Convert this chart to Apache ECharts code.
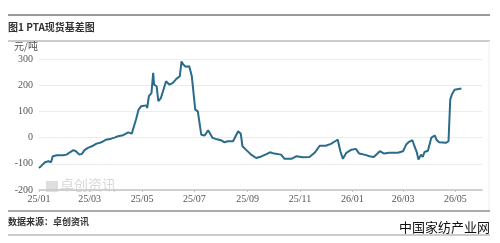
<!DOCTYPE html>
<html>
<head>
<meta charset="utf-8">
<script src="https://cdn.jsdelivr.net/npm/echarts@6/dist/echarts.min.js"></script>
<style>
  html, body { margin: 0; padding: 0; background: #fff; }
  #main { width: 500px; height: 243px; }
</style>
</head>
<body>
<div id="main"></div>
<script>
// 基差数据（元/吨），按日期读取
var basisDates = [
  "2025-01-01", "2025-01-04", "2025-01-08", "2025-01-12", "2025-01-15", "2025-01-17", "2025-01-22", "2025-01-29",
  "2025-02-02", "2025-02-06", "2025-02-10", "2025-02-13", "2025-02-17", "2025-02-20", "2025-02-23", "2025-02-27",
  "2025-03-05", "2025-03-09", "2025-03-13", "2025-03-17", "2025-03-20", "2025-03-22", "2025-03-26", "2025-03-30",
  "2025-04-03", "2025-04-09", "2025-04-15", "2025-04-19", "2025-04-21", "2025-04-24", "2025-04-27", "2025-04-30",
  "2025-05-06", "2025-05-07", "2025-05-09", "2025-05-12", "2025-05-14", "2025-05-15", "2025-05-18", "2025-05-20",
  "2025-05-23", "2025-05-29", "2025-06-02", "2025-06-06", "2025-06-10", "2025-06-14", "2025-06-16", "2025-06-18",
  "2025-06-21", "2025-06-25", "2025-06-28", "2025-07-02", "2025-07-05", "2025-07-09", "2025-07-13", "2025-07-17",
  "2025-07-19", "2025-07-22", "2025-07-26", "2025-08-01", "2025-08-05", "2025-08-09", "2025-08-15", "2025-08-21",
  "2025-08-23", "2025-08-24", "2025-08-26", "2025-08-30", "2025-09-05", "2025-09-11", "2025-09-17", "2025-09-23",
  "2025-09-27", "2025-10-02", "2025-10-10", "2025-10-14", "2025-10-22", "2025-10-28", "2025-11-04", "2025-11-12",
  "2025-11-18", "2025-11-24", "2025-12-01", "2025-12-07", "2025-12-12", "2025-12-15", "2025-12-18", "2025-12-21",
  "2025-12-25", "2025-12-31", "2026-01-05", "2026-01-09", "2026-01-15", "2026-01-21", "2026-01-26", "2026-02-02",
  "2026-02-07", "2026-02-13", "2026-02-23", "2026-03-01", "2026-03-05", "2026-03-08", "2026-03-12", "2026-03-14",
  "2026-03-17", "2026-03-19", "2026-03-22", "2026-03-24", "2026-03-26", "2026-03-30", "2026-04-01", "2026-04-03",
  "2026-04-07", "2026-04-09", "2026-04-12", "2026-04-20", "2026-04-23", "2026-04-25", "2026-04-27", "2026-04-30",
  "2026-05-08"
];
var basisValues = [
  -116, -107, -94, -90, -94, -71, -67, -67,
  -65, -56, -48, -52, -65, -62, -48, -39,
  -31, -23, -20, -14, -8, -10, -4, 0,
  5, 9, 20, 15, 22, 69, 107, 120,
  123, 113, 158, 170, 247, 202, 196, 139,
  151, 215, 202, 209, 224, 234, 291, 279,
  270, 272, 234, 107, 100, 11, 8, 28,
  24, -1, -5, -10, -18, -14, -14, 24,
  31, 15, -33, -46, -65, -78, -72, -63,
  -56, -61, -65, -81, -81, -71, -75, -74,
  -58, -31, -31, -24, -14, -8, -52, -81,
  -58, -46, -43, -61, -65, -71, -74, -52,
  -61, -58, -58, -52, -25, -16, -10, -30,
  -55, -84, -65, -74, -55, -50, -46, 0,
  8, -8, -18, -20, -14, 145, 165, 183,
  187
];
var yTicks = [-200, -100, 0, 100, 200, 300];

// 横轴按自然日排列
var dayList = [];
var d = new Date(Date.UTC(2025, 0, 1));
var end = new Date(Date.UTC(2026, 5, 1));
while (d <= end) {
  dayList.push(d.toISOString().slice(0, 10));
  d.setUTCDate(d.getUTCDate() + 1);
}

function isLabelDay(value) {
  var month = parseInt(value.slice(5, 7), 10);
  return value.slice(8, 10) === "01" && month % 2 === 1;
}

var serif = "'Liberation Serif', 'DejaVu Serif', serif";
var cjk = "'Noto Sans CJK SC', sans-serif";

var myChart = echarts.init(document.getElementById("main"));
var option = {
  backgroundColor: "#ffffff",
  animation: false,
  grid: { left: 39, right: 18, top: 59, bottom: 53 },
  xAxis: [
    {
      type: "category",
      data: dayList,
      boundaryGap: false,
      axisLine: { show: false },
      axisTick: { show: false },
      splitLine: { show: false },
      axisLabel: {
        interval: function(index, value) { return isLabelDay(value); },
        formatter: function(value) { return value.slice(2, 4) + "/" + value.slice(5, 7); },
        color: "#555",
        fontFamily: serif,
        fontSize: 10,
        margin: 4
      }
    },
    {
      type: "category",
      data: dayList,
      boundaryGap: false,
      position: "bottom",
      axisLine: { show: true, onZero: true, lineStyle: { color: "#c4c4c4", width: 1.5 } },
      axisTick: {
        show: true,
        length: 2,
        interval: function(index, value) { return isLabelDay(value); },
        lineStyle: { color: "#c4c4c4" }
      },
      axisLabel: { show: false },
      splitLine: { show: false }
    }
  ],
  yAxis: {
    type: "value",
    min: yTicks[0],
    max: yTicks[yTicks.length - 1],
    interval: 100,
    axisLine: { show: false },
    axisTick: { show: false },
    axisLabel: { color: "#555", fontFamily: serif, fontSize: 10, margin: 6 },
    splitLine: { lineStyle: { color: "#ececec", width: 1 } }
  },
  series: [
    {
      type: "line",
      xAxisIndex: 0,
      data: basisDates.map(function(x, i) { return [x, basisValues[i]]; }),
      showSymbol: false,
      lineStyle: { color: "#2a6b8a", width: 2 },
      itemStyle: { color: "#2a6b8a" },
      z: 5
    }
  ],
  graphic: [
    { type: "line", shape: { x1: 8, y1: 15, x2: 490, y2: 15 }, style: { stroke: "#777", lineWidth: 1.5 } },
    { type: "text", left: 8, top: 22, style: { text: "图1 PTA现货基差图", fontFamily: cjk, fontSize: 10, fontWeight: "bold", fill: "#333" } },
    { type: "line", shape: { x1: 8, y1: 41, x2: 490, y2: 41 }, style: { stroke: "#999", lineWidth: 1 } },
    { type: "line", shape: { x1: 489, y1: 41, x2: 489, y2: 211 }, style: { stroke: "#f0f0f0", lineWidth: 1 } },
    { type: "text", left: 14, top: 41, style: { text: "元/吨", fontFamily: cjk, fontSize: 10, fill: "#555" } },
    { type: "rect", shape: { x: 46, y: 181, width: 12, height: 11 }, style: { fill: "rgba(160,160,160,0.35)" } },
    { type: "text", left: 60, top: 178, style: { text: "卓创资讯", fontFamily: cjk, fontSize: 14, fill: "rgba(170,170,170,0.45)" } },
    { type: "line", shape: { x1: 8, y1: 211, x2: 490, y2: 211 }, style: { stroke: "#aaa", lineWidth: 2 } },
    { type: "text", left: 8, top: 217, style: { text: "数据来源：卓创资讯", fontFamily: cjk, fontSize: 9, fontWeight: "bold", fill: "#333" } },
    { type: "line", shape: { x1: 8, y1: 235, x2: 490, y2: 235 }, style: { stroke: "#999", lineWidth: 1 } },
    { type: "text", right: 10, top: 221, z: 10, style: { text: "中国家纺产业网", fontFamily: cjk, fontSize: 13, fill: "#111", backgroundColor: "transparent" } }
  ]
};
myChart.setOption(option);
window.onresize = function() {
  myChart.resize();
};
</script>
</body>
</html>
